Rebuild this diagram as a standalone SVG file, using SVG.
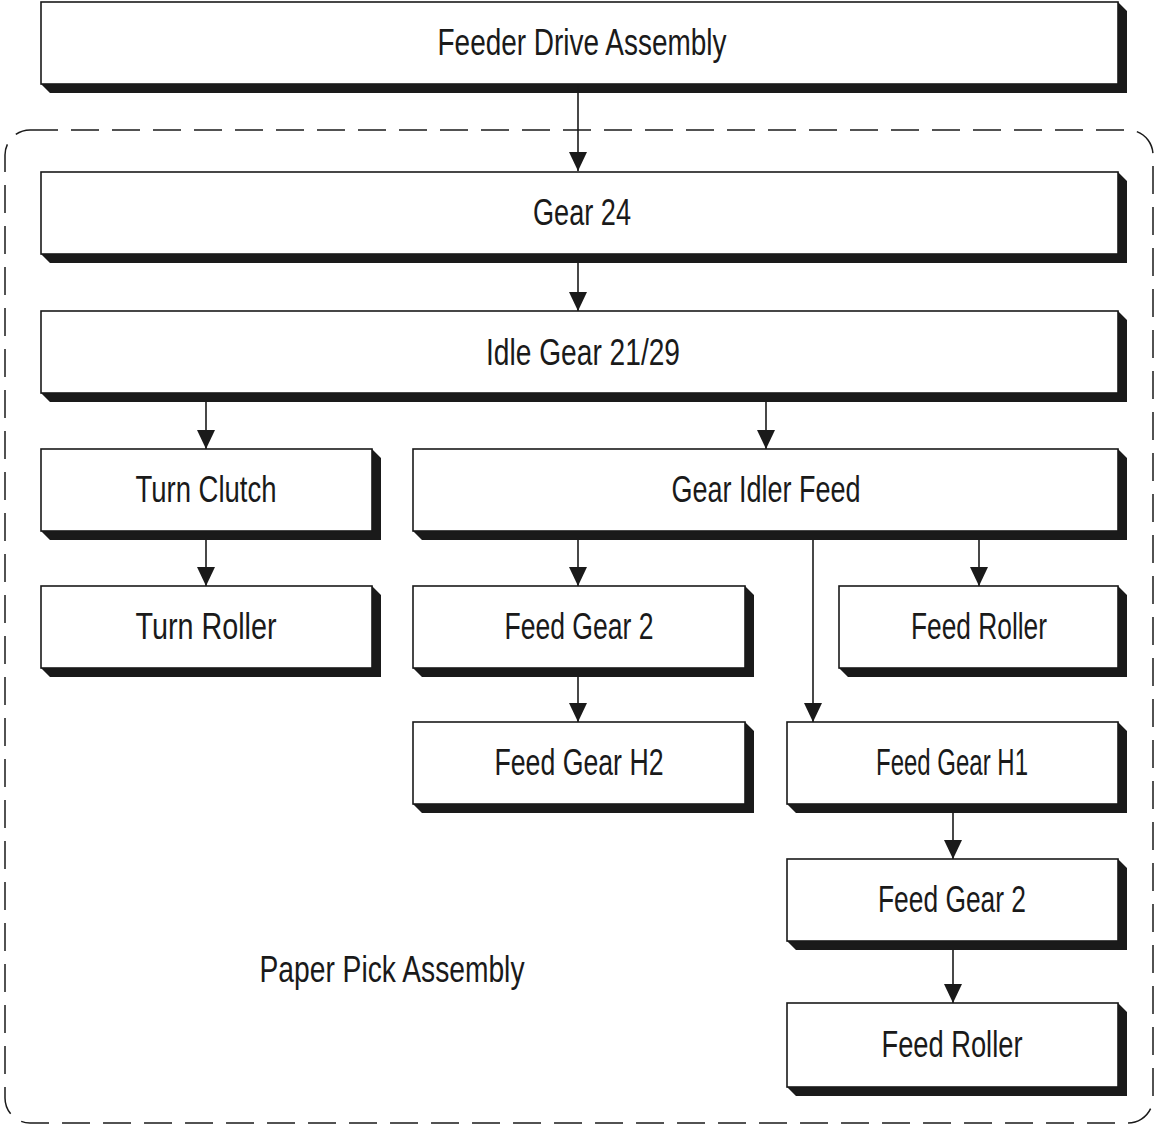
<svg xmlns="http://www.w3.org/2000/svg" width="1155" height="1125" viewBox="0 0 1155 1125">
<style>
.box{fill:#fff;stroke:#1a1a1a;stroke-width:1.6}
.sh{fill:#1a1a1a}
.lbl{font-family:"Liberation Sans",Arial,sans-serif;font-size:36px;fill:#1a1a1a;text-anchor:middle}
.con{stroke:#1a1a1a;stroke-width:1.6;fill:none}
</style>
<defs>
<marker id="ah" markerUnits="userSpaceOnUse" viewBox="0 0 19 18" refX="19" refY="9" markerWidth="19" markerHeight="18" orient="auto">
<path d="M0,0 L19,9 L0,18 z" fill="#1a1a1a"/>
</marker>
</defs>
<rect x="5" y="130" width="1148" height="993" rx="25" ry="25" fill="none" stroke="#1a1a1a" stroke-width="1.5" stroke-dasharray="28 13"/>
<text class="lbl" x="392" y="982" textLength="265" lengthAdjust="spacingAndGlyphs">Paper Pick Assembly</text>
<g id="feeder"><polygon class="sh" points="1118,2 1127,11 1127,93 50,93 41,84 1118,84"/><rect class="box" x="41" y="2" width="1077" height="82"/><text class="lbl" x="582" y="55" textLength="289" lengthAdjust="spacingAndGlyphs">Feeder Drive Assembly</text></g>
<g id="gear24"><polygon class="sh" points="1118,172 1127,181 1127,263 50,263 41,254 1118,254"/><rect class="box" x="41" y="172" width="1077" height="82"/><text class="lbl" x="582" y="225" textLength="98" lengthAdjust="spacingAndGlyphs">Gear 24</text></g>
<g id="idle"><polygon class="sh" points="1118,311 1127,320 1127,402 50,402 41,393 1118,393"/><rect class="box" x="41" y="311" width="1077" height="82"/><text class="lbl" x="583" y="365" textLength="194" lengthAdjust="spacingAndGlyphs">Idle Gear 21/29</text></g>
<g id="turnclutch"><polygon class="sh" points="372,449 381,458 381,540 50,540 41,531 372,531"/><rect class="box" x="41" y="449" width="331" height="82"/><text class="lbl" x="206" y="502" textLength="141" lengthAdjust="spacingAndGlyphs">Turn Clutch</text></g>
<g id="gearidler"><polygon class="sh" points="1118,449 1127,458 1127,540 422,540 413,531 1118,531"/><rect class="box" x="413" y="449" width="705" height="82"/><text class="lbl" x="766" y="502" textLength="189" lengthAdjust="spacingAndGlyphs">Gear Idler Feed</text></g>
<g id="turnroller"><polygon class="sh" points="372,586 381,595 381,677 50,677 41,668 372,668"/><rect class="box" x="41" y="586" width="331" height="82"/><text class="lbl" x="206" y="639" textLength="141" lengthAdjust="spacingAndGlyphs">Turn Roller</text></g>
<g id="feedgear2a"><polygon class="sh" points="745,586 754,595 754,677 422,677 413,668 745,668"/><rect class="box" x="413" y="586" width="332" height="82"/><text class="lbl" x="579" y="639" textLength="149" lengthAdjust="spacingAndGlyphs">Feed Gear 2</text></g>
<g id="feedroller1"><polygon class="sh" points="1118,586 1127,595 1127,677 848,677 839,668 1118,668"/><rect class="box" x="839" y="586" width="279" height="82"/><text class="lbl" x="979" y="639" textLength="136" lengthAdjust="spacingAndGlyphs">Feed Roller</text></g>
<g id="feedgearh2"><polygon class="sh" points="745,722 754,731 754,813 422,813 413,804 745,804"/><rect class="box" x="413" y="722" width="332" height="82"/><text class="lbl" x="579" y="775" textLength="169" lengthAdjust="spacingAndGlyphs">Feed Gear H2</text></g>
<g id="feedgearh1"><polygon class="sh" points="1118,722 1127,731 1127,813 796,813 787,804 1118,804"/><rect class="box" x="787" y="722" width="331" height="82"/><text class="lbl" x="952" y="775" textLength="152" lengthAdjust="spacingAndGlyphs">Feed Gear H1</text></g>
<g id="feedgear2b"><polygon class="sh" points="1118,859 1127,868 1127,950 796,950 787,941 1118,941"/><rect class="box" x="787" y="859" width="331" height="82"/><text class="lbl" x="952" y="912" textLength="148" lengthAdjust="spacingAndGlyphs">Feed Gear 2</text></g>
<g id="feedroller2"><polygon class="sh" points="1118,1003 1127,1012 1127,1096 796,1096 787,1087 1118,1087"/><rect class="box" x="787" y="1003" width="331" height="84"/><text class="lbl" x="952" y="1057" textLength="141" lengthAdjust="spacingAndGlyphs">Feed Roller</text></g>
<g id="connectors">
<line class="con" x1="578" y1="84" x2="578" y2="171" marker-end="url(#ah)"/>
<line class="con" x1="578" y1="263" x2="578" y2="311" marker-end="url(#ah)"/>
<line class="con" x1="206" y1="402" x2="206" y2="449" marker-end="url(#ah)"/>
<line class="con" x1="766" y1="402" x2="766" y2="449" marker-end="url(#ah)"/>
<line class="con" x1="206" y1="540" x2="206" y2="586" marker-end="url(#ah)"/>
<line class="con" x1="578" y1="540" x2="578" y2="586" marker-end="url(#ah)"/>
<line class="con" x1="979" y1="540" x2="979" y2="586" marker-end="url(#ah)"/>
<line class="con" x1="813" y1="540" x2="813" y2="722" marker-end="url(#ah)"/>
<line class="con" x1="578" y1="677" x2="578" y2="722" marker-end="url(#ah)"/>
<line class="con" x1="953" y1="813" x2="953" y2="859" marker-end="url(#ah)"/>
<line class="con" x1="953" y1="950" x2="953" y2="1003" marker-end="url(#ah)"/>
</g>
</svg>
